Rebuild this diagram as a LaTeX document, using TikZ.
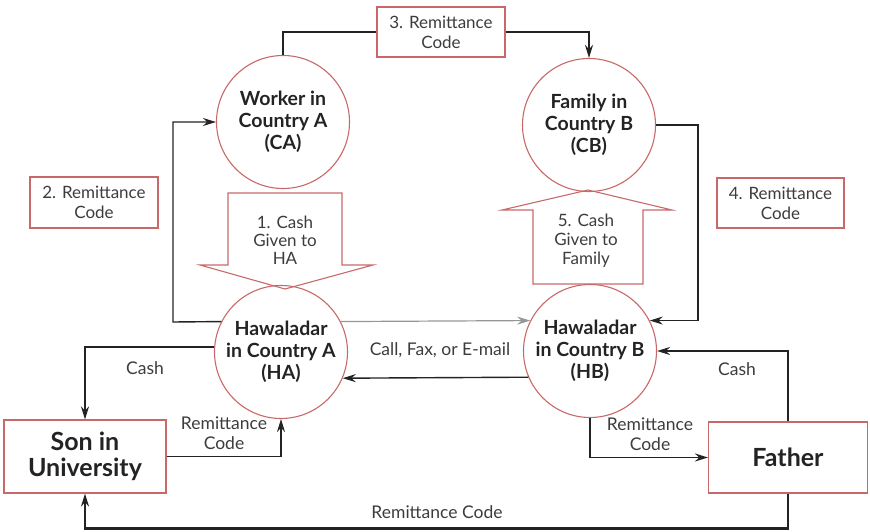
\documentclass[tikz,border=0pt]{standalone}
\usepackage{fontspec}
\setmainfont{Lato}
\usetikzlibrary{arrows.meta}
\definecolor{edgered}{RGB}{200,105,105}
\definecolor{ink}{RGB}{35,35,35}
\definecolor{txt}{RGB}{60,60,60}
\definecolor{lightline}{RGB}{150,150,150}
\begin{document}
\begin{tikzpicture}[x=1pt,y=-1pt,
  circ/.style={circle,draw=edgered,line width=1.1pt,minimum size=133pt,inner sep=0pt,align=center,
    font=\fontsize{19.5}{22}\selectfont\bfseries,text=ink},
  rbox/.style={draw=edgered,line width=1.1pt,align=center,inner sep=0pt,
    font=\fontsize{17}{20}\selectfont,text=txt},
  bigbox/.style={draw=edgered,line width=1.1pt,align=center,inner sep=0pt,
    font=\fontsize{25}{26}\selectfont\bfseries,text=ink},
  blockarrow/.style={draw=edgered,line width=1.1pt},
  lbl/.style={align=center,inner sep=0pt,font=\fontsize{17.5}{20}\selectfont,text=txt},
  heavy/.style={draw=ink,line width=2.2pt},
  lightw/.style={draw=ink,line width=1.4pt},
  tip/.style={-{Stealth[length=13pt,width=8pt]}}
]
\useasboundingbox (0,0) rectangle (870,532);

% circles
\node[circ] (CA) at (283,122) {Worker in\\Country A\\(CA)};
\node[circ] (CB) at (589,125) {Family in\\Country B\\(CB)};
\node[circ] (HA) at (281,352) {Hawaladar\\in Country A\\(HA)};
\node[circ] (HB) at (590,351) {Hawaladar\\in Country B\\(HB)};

% boxes
\node[rbox,minimum width=128pt,minimum height=50pt] (R3) at (441,32) {3. Remittance\\Code};
\node[rbox,minimum width=128pt,minimum height=51pt] (R2) at (94,202.5) {2. Remittance\\Code};
\node[rbox,minimum width=127pt,minimum height=50pt] (R4) at (780.5,203) {4. Remittance\\Code};
\node[bigbox,minimum width=162pt,minimum height=73pt] (Son) at (85,456.5) {Son in\\University};
\node[bigbox,minimum width=159pt,minimum height=71pt] (Father) at (788,457.5) {Father};

% block arrows
\draw[blockarrow] (228,193) -- (342,193) -- (342,265) -- (373,265) -- (285,289) -- (200,265) -- (228,265) -- cycle;
\node[lbl,font=\fontsize{17}{18}\selectfont] (T1) at (285,240) {1. Cash\\Given to\\HA};
\draw[blockarrow] (588,190) -- (672,210) -- (643,210) -- (643,284) -- (533,284) -- (533,210) -- (502,210) -- cycle;
\node[lbl,font=\fontsize{17}{19}\selectfont] (T5) at (586,241) {5. Cash\\Given to\\Family};

% connectors
\draw[heavy] (CA.north) |- (R3.west);
\draw[heavy,tip] (R3.east) -| (CB.north);
\draw[lightw,tip] (HA.153) -- (173,322) |- (CA.west);
\draw[lightw,tip] (CB.east) -- (698,125) |- (HB.27);
\draw[draw=lightline,line width=1.2pt,tip] (HA.27) -- (HB.153);
\draw[lightw,tip] (HB.203) -- (HA.337);
\node[lbl] (Lcall) at (440,350) {Call, Fax, or E-mail};

\draw[heavy,tip] (HA.176) -| (Son.north);
\node[lbl] (Lcash1) at (145,368) {Cash};
\draw[lightw,tip] (Son.east) -| (HA.south);
\node[lbl] (Lrc1) at (224,433) {Remittance\\Code};

\draw[lightw,tip] (HB.south) |- (Father.west);
\node[lbl] (Lrc2) at (650,434) {Remittance\\Code};
\draw[heavy,tip] (Father.north) |- (HB.east);
\node[lbl] (Lcash2) at (737,369) {Cash};

\draw[heavy,tip] (Father.south) -- ++(0,35) -| (Son.south);
\node[lbl] (Lrc3) at (437,512) {Remittance Code};
\end{tikzpicture}
\end{document}
